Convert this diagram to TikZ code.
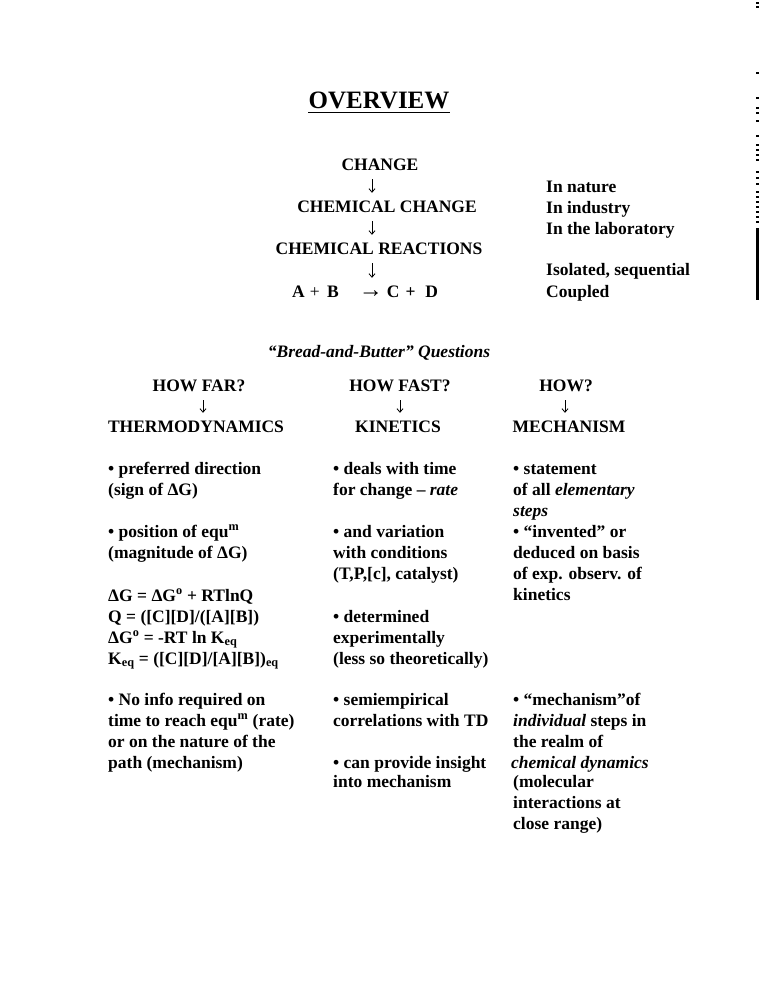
\documentclass[tikz,border=0pt]{standalone}
\usepackage{fontspec}
\setmainfont{Liberation Serif}
\usetikzlibrary{arrows.meta}
\tikzset{
  base/.style={inner sep=0pt, font=\fontsize{17.5}{21}\selectfont\bfseries, text height=12pt, text depth=4pt},
  txt/.style={base, anchor=base west},
  ctr/.style={base, anchor=base},
  ttl/.style={inner sep=0pt, anchor=base, font=\fontsize{25}{30}\selectfont\bfseries},
  arr/.style={-{Straight Barb[length=3.5pt,width=6pt]}, line width=0.8pt, shorten <=5pt, shorten >=7pt}
}
\begin{document}
\begin{tikzpicture}[x=1pt,y=-1pt]
\useasboundingbox[fill=white] (0,0) rectangle (759,990);
% title
\node[ttl] (ov) at (379,108) {OVERVIEW};
\draw[line width=1.6pt] ([yshift=-4.5pt]ov.base west) -- ([yshift=-4.5pt]ov.base east);
% top chain
\node[ctr] (change) at (380,170) {CHANGE};
\node[ctr] (chemchange) at (387,212) {CHEMICAL CHANGE};
\node[ctr] (chemreact) at (379,254) {CHEMICAL REACTIONS};
\node[txt] (eqn) at (292,297) {A\hspace{5pt}{\mdseries +}\hspace{7.5pt}B\hspace{20pt}{\mdseries\fontsize{24}{24}\selectfont →}\hspace{4pt}C\hspace{6pt}+\hspace{10pt}D};
\coordinate (ax1) at (372,0);
\draw[arr] (change.south -| ax1) -- (chemchange.north -| ax1);
\draw[arr] (chemchange.south -| ax1) -- (chemreact.north -| ax1);
\draw[arr] (chemreact.south -| ax1) -- (eqn.north -| ax1);
% right list
\node[txt] (r1) at (546,192) {In nature};
\node[txt] (r2) at (546,213) {In industry};
\node[txt] (r3) at (546,234) {In the laboratory};
\node[txt] (r4) at (546,275) {Isolated, sequential};
\node[txt] (r5) at (546,297) {Coupled};
% questions
\node[ctr] (bb) at (379,357) {\itshape “Bread-and-Butter” Questions};
\node[ctr] (howfar) at (199,391) {HOW FAR?};
\node[ctr] (howfast) at (400,391) {HOW FAST?};
\node[ctr] (how) at (566,391) {HOW?};
\node[ctr] (thermo) at (196,432) {THERMODYNAMICS};
\node[ctr] (kin) at (398,432) {KINETICS};
\node[ctr] (mech) at (569,432) {MECHANISM};
\coordinate (ax2) at (203,0);
\coordinate (ax3) at (400,0);
\coordinate (ax4) at (565,0);
\draw[arr] (howfar.south -| ax2) -- (thermo.north -| ax2);
\draw[arr] (howfast.south -| ax3) -- (kin.north -| ax3);
\draw[arr] (how.south -| ax4) -- (mech.north -| ax4);
% column 1
\node[txt] (a1) at (108,474) {• preferred direction};
\node[txt] (a2) at (108,495) {(sign of ΔG)};
\node[txt] (a3) at (108,537) {• position of equ\textsuperscript{m}};
\node[txt] (a4) at (108,558) {(magnitude of ΔG)};
\node[txt] (a5) at (108,601) {ΔG = ΔG\textsuperscript{o} + RTlnQ};
\node[txt] (a6) at (108,622) {Q = ([C][D]/([A][B])};
\node[txt] (a7) at (108,643) {ΔG\textsuperscript{o} = -RT ln K\textsubscript{eq}};
\node[txt] (a8) at (108,664) {K\textsubscript{eq} = ([C][D]/[A][B])\textsubscript{eq}};
\node[txt] (a9) at (108,705) {• No info required on};
\node[txt] (a10) at (108,726) {time to reach equ\textsuperscript{m} (rate)};
\node[txt] (a11) at (108,747) {or on the nature of the};
\node[txt] (a12) at (108,768) {path (mechanism)};
% column 2
\node[txt] (b1) at (333,474) {• deals with time};
\node[txt] (b2) at (333,495) {for change – \textit{rate}};
\node[txt] (b3) at (333,537) {• and variation};
\node[txt] (b4) at (333,558) {with conditions};
\node[txt] (b5) at (333,579) {(T,P,[c], catalyst)};
\node[txt] (b6) at (333,622) {• determined};
\node[txt] (b7) at (333,643) {experimentally};
\node[txt] (b8) at (333,664) {(less so theoretically)};
\node[txt] (b9) at (333,705) {• semiempirical};
\node[txt] (b10) at (333,726) {correlations with TD};
\node[txt] (b11) at (333,768) {• can provide insight};
\node[txt] (b12) at (333,787) {into mechanism};
% column 3
\node[txt] (c1) at (513,474) {• statement};
\node[txt] (c2) at (513,495) {of all \textit{elementary}};
\node[txt] (c3) at (513,516) {\textit{steps}};
\node[txt] (c4) at (513,537) {• “invented” or};
\node[txt] (c5) at (513,558) {deduced on basis};
\node[txt] (c6) at (513,579) {of exp. observ. of};
\node[txt] (c7) at (513,600) {kinetics};
\node[txt] (c8) at (513,705) {• “mechanism”of};
\node[txt] (c9) at (513,726) {\textit{individual} steps in};
\node[txt] (c10) at (513,747) {the realm of};
\node[txt] (c11) at (511,768) {\textit{chemical dynamics}};
\node[txt] (c12) at (513,787) {(molecular};
\node[txt] (c13) at (513,808) {interactions at};
\node[txt] (c14) at (513,829) {close range)};
% scan edge marks
\fill (756,228) rectangle (759,300);
\foreach \t in {3,7,73,98,108,113,121,136,145,150,155,160,172,178,184,192,197,202,207,212,217,222}
  \fill (756,\t-1) rectangle (759,\t+1);
\end{tikzpicture}
\end{document}
